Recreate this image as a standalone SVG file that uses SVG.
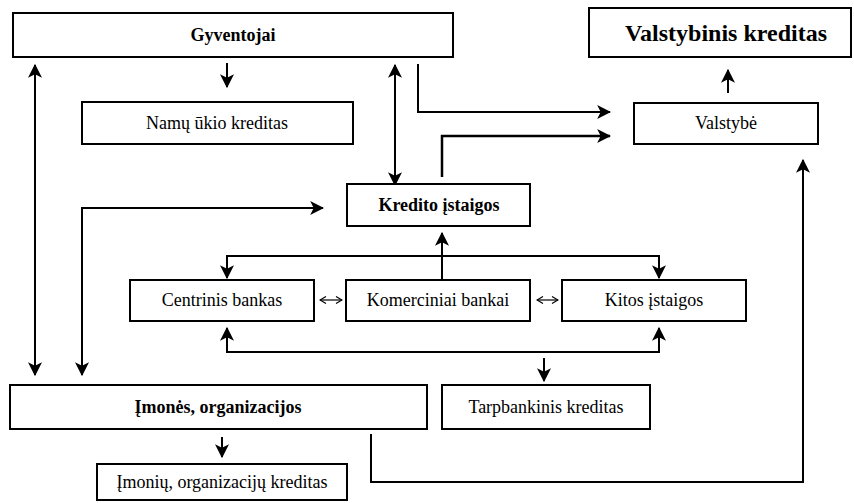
<svg xmlns="http://www.w3.org/2000/svg" width="854" height="503" viewBox="0 0 854 503">
<defs>
<marker id="ah" markerUnits="userSpaceOnUse" markerWidth="14" markerHeight="14" viewBox="0 0 12 12" refX="11" refY="6" orient="auto-start-reverse">
<path d="M0,0 L12,6 L0,12 L3,6 z" fill="#000"/>
</marker>
<marker id="oh" markerUnits="userSpaceOnUse" markerWidth="8" markerHeight="8" viewBox="0 0 8 8" refX="7" refY="4" orient="auto-start-reverse">
<path d="M1,0.5 L7,4 L1,7.5" fill="none" stroke="#000" stroke-width="1.2"/>
</marker>
</defs>
<rect width="854" height="503" fill="#fff"/>
<g id="connectors" fill="none" stroke="#000" stroke-width="2">
<path d="M227,63 V87" marker-end="url(#ah)"/>
<path d="M35,65 V375" marker-start="url(#ah)" marker-end="url(#ah)"/>
<path d="M395,65 V185" marker-start="url(#ah)" marker-end="url(#ah)"/>
<path d="M418,64 V112 H610" marker-end="url(#ah)"/>
<path d="M82,375 V208 H323" marker-start="url(#ah)" marker-end="url(#ah)"/>
<path d="M442,177 V136 H610" stroke-width="2.5" marker-end="url(#ah)"/>
<path d="M728,93 V70" marker-end="url(#ah)"/>
<path d="M371,434 V482 H803 V160" marker-end="url(#ah)"/>
<path d="M442,280 V233" marker-end="url(#ah)"/>
<path d="M227,278 V256 H659 V278" marker-start="url(#ah)" marker-end="url(#ah)"/>
<path d="M227,328 V352 H659 V328" marker-start="url(#ah)" marker-end="url(#ah)"/>
<path d="M544,358 V381" marker-end="url(#ah)"/>
<path d="M222,437 V457" marker-end="url(#ah)"/>
<path d="M320,300 H342" stroke-width="1.2" marker-start="url(#oh)" marker-end="url(#oh)"/>
<path d="M537,300 H558" stroke-width="1.2" marker-start="url(#oh)" marker-end="url(#oh)"/>
</g>
<g id="boxes" fill="#fff" stroke="#000" stroke-width="2">
<rect id="r-gyventojai" x="13" y="13" width="440" height="44"/>
<rect id="r-valstybinis" x="589" y="8" width="262" height="49"/>
<rect id="r-namu" x="82" y="102" width="271" height="42"/>
<rect id="r-valstybe" x="634" y="103" width="184" height="41"/>
<rect id="r-kredito" x="347" y="184" width="183" height="42"/>
<rect id="r-centrinis" x="130" y="280" width="184" height="41"/>
<rect id="r-komerciniai" x="346" y="280" width="184" height="41"/>
<rect id="r-kitos" x="562" y="280" width="184" height="41"/>
<rect id="r-imones" x="10" y="385" width="417" height="44"/>
<rect id="r-tarpbankinis" x="442" y="385" width="208" height="44"/>
<rect id="r-imoniu" x="97" y="464" width="250" height="36"/>
</g>
<g id="labels" font-family="Liberation Serif, Times New Roman, serif" font-size="18" text-anchor="middle" fill="#000">
<text id="gyventojai" font-weight="bold" x="233" y="41">Gyventojai</text>
<text id="valstybinis" font-weight="bold" font-size="24" x="726" y="41">Valstybinis kreditas</text>
<text id="namu" x="217" y="129">Namų ūkio kreditas</text>
<text id="valstybe" x="726" y="129">Valstybė</text>
<text id="kredito" font-weight="bold" x="439" y="211">Kredito įstaigos</text>
<text id="centrinis" x="222" y="306">Centrinis bankas</text>
<text id="komerciniai" x="438" y="306">Komerciniai bankai</text>
<text id="kitos" x="654" y="306">Kitos įstaigos</text>
<text id="imones" font-weight="bold" x="218" y="413">Įmonės, organizacijos</text>
<text id="tarpbankinis" x="546" y="413">Tarpbankinis kreditas</text>
<text id="imoniu" x="222" y="488">Įmonių, organizacijų kreditas</text>
</g>
</svg>
